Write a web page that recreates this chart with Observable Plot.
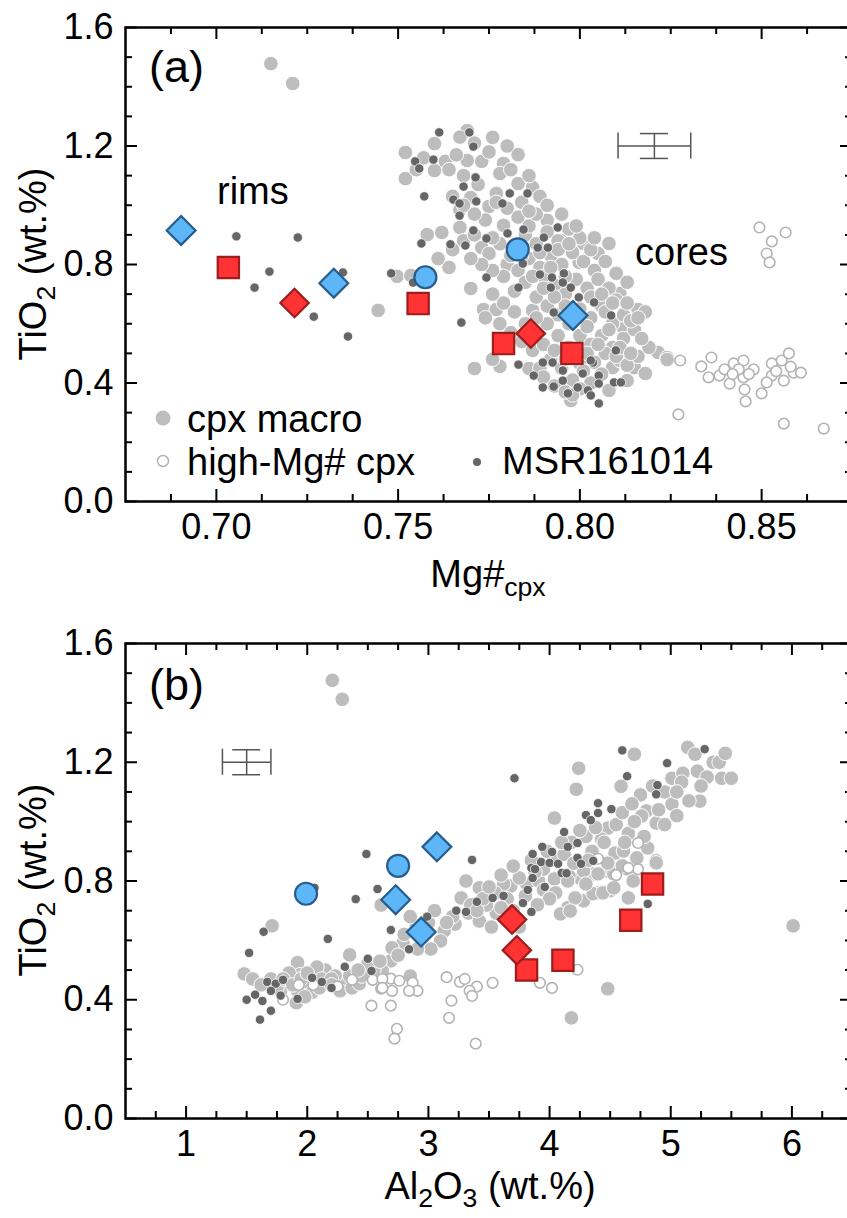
<!DOCTYPE html>
<html><head><meta charset="utf-8">
<script src="https://cdn.jsdelivr.net/npm/d3@7"></script>
<script src="https://cdn.jsdelivr.net/npm/@observablehq/plot@0.6"></script>
<style>
body{margin:0;background:#fff;}
#chart svg{display:block;overflow:hidden}
</style></head><body><div id="chart"></div>
<script>
const FONT = "'Liberation Sans', Arial, Helvetica, sans-serif";

// ---- ticks ----
const yMajor = [0, 0.4, 0.8, 1.2, 1.6];
const yMinor = [0.1, 0.2, 0.3, 0.5, 0.6, 0.7, 0.9, 1.0, 1.1, 1.3, 1.4, 1.5];
const xMajorA = [0.70, 0.75, 0.80, 0.85];
const xMinorA = [0.6875, 0.7125, 0.725, 0.7375, 0.7625, 0.775, 0.7875, 0.8125, 0.825, 0.8375, 0.8625];
const xMajorB = [1, 2, 3, 4, 5, 6];
const xMinorB = [0.75, 1.25, 1.5, 1.75, 2.25, 2.5, 2.75, 3.25, 3.5, 3.75, 4.25, 4.5, 4.75, 5.25, 5.5, 5.75, 6.25];

// ---- panel (a): [Mg#cpx, TiO2] ----
const macroA = [
 [0.715,1.478],[0.721,1.411],[0.7445,0.645],[0.7497,0.760],
 [0.769,1.252],[0.776,1.229],[0.752,1.178],[0.760,1.208],[0.763,1.148],[0.769,1.151],[0.773,1.148],[0.783,1.171],
 [0.779,1.141],[0.752,1.090],[0.760,1.117],[0.778,1.107],[0.783,1.073],[0.787,1.060],[0.777,1.040],[0.770,1.026],
 [0.775,0.996],[0.767,0.985],[0.758,0.901],[0.762,0.908],[0.767,0.925],[0.773,0.857],[0.775,0.837],[0.779,0.932],
 [0.791,0.949],[0.795,0.881],[0.801,0.871],[0.808,0.871],[0.805,0.837],[0.7535,0.763],[0.770,0.719],[0.7735,0.648],
 [0.777,0.648],[0.787,0.645],[0.811,0.695],[0.816,0.648],[0.812,0.587],[0.7998,0.807],[0.811,0.702],
 [0.771,0.449],[0.778,0.456],[0.776,0.480],[0.7975,0.341],[0.786,0.449],[0.800,0.466],[0.809,0.452],[0.811,0.476],
 [0.813,0.408],[0.808,0.375],[0.815,0.452],[0.818,0.432],[0.8215,0.503],[0.824,0.486],[0.824,0.479],
 [0.780,0.80],[0.783,0.78],[0.786,0.82],[0.789,0.79],[0.792,0.83],[0.795,0.80],[0.798,0.84],[0.801,0.81],[0.804,0.78],
 [0.790,0.76],[0.793,0.73],[0.796,0.70],[0.799,0.75],[0.802,0.72],[0.805,0.75],[0.808,0.72],[0.785,0.74],[0.782,0.71],
 [0.788,0.69],[0.791,0.66],[0.794,0.63],[0.797,0.60],[0.800,0.65],[0.803,0.62],[0.806,0.66],[0.809,0.60],[0.812,0.63],
 [0.800,0.56],[0.803,0.53],[0.806,0.56],[0.809,0.52],[0.812,0.55],[0.815,0.58],[0.797,0.52],[0.794,0.56],[0.791,0.60],
 [0.788,0.62],[0.785,0.60],[0.782,0.64],[0.779,0.67],[0.776,0.70],[0.779,0.76],[0.776,0.78],[0.773,0.80],[0.770,0.82],
 [0.782,0.86],[0.785,0.90],[0.788,0.87],[0.791,0.91],[0.794,0.88],[0.797,0.92],[0.800,0.89],[0.786,0.93],[0.783,0.96],
 [0.780,0.99],[0.777,1.01],[0.774,0.95],[0.771,0.97],[0.768,1.00],[0.765,1.03],[0.772,1.07],[0.768,1.10],[0.764,1.12],
 [0.775,1.18],[0.771,1.21],[0.767,1.23],[0.757,1.16],[0.755,1.12],[0.766,1.17],[0.780,1.20],[0.786,1.10],[0.781,1.12],
 [0.789,1.03],[0.784,1.01],[0.807,0.50],[0.804,0.47],[0.801,0.44],[0.798,0.41],[0.795,0.45],[0.792,0.48],[0.789,0.45],
 [0.810,0.49],[0.813,0.46],[0.816,0.49],[0.819,0.52],[0.817,0.55],[0.814,0.61],[0.818,0.64],[0.810,0.68],[0.807,0.64],
 [0.790,0.42],[0.793,0.39],[0.796,0.37],[0.803,0.40],[0.806,0.43],[0.800,0.38],[0.798,0.36],
 [0.768,0.88],[0.765,0.85],[0.771,0.90],[0.764,0.79],[0.761,0.82],
 [0.774,0.62],[0.778,0.60],[0.781,0.57],[0.784,0.54],[0.787,0.51],[0.790,0.53],[0.793,0.51],[0.796,0.48],[0.799,0.49],
 [0.802,0.50],[0.805,0.53],[0.808,0.58],[0.811,0.52],[0.814,0.50],[0.802,0.59],[0.799,0.62],[0.796,0.66],[0.793,0.69],
 [0.790,0.72],[0.787,0.76],[0.784,0.83],[0.781,0.83],[0.778,0.87],[0.776,0.89],[0.789,0.84],[0.792,0.79],[0.796,0.76],
 [0.803,0.69],[0.806,0.70],[0.809,0.67],[0.813,0.67],[0.816,0.62],[0.794,0.85],[0.797,0.87],[0.803,0.85],[0.807,0.81],
 [0.810,0.77],[0.813,0.74],[0.804,0.89],[0.799,0.93],[0.788,0.97],[0.791,1.00],[0.795,0.97],[0.786,0.98]
];
const highA = [
 [0.8494,0.925],[0.8566,0.908],[0.8528,0.878],[0.8514,0.837],[0.8522,0.807],[0.8276,0.476],[0.8271,0.294],[0.8334,0.456],
 [0.8362,0.486],[0.8354,0.419],[0.8384,0.425],[0.8398,0.446],[0.8423,0.466],[0.8450,0.476],[0.8412,0.398],[0.8450,0.419],
 [0.8453,0.378],[0.8456,0.338],[0.8478,0.446],[0.8500,0.365],[0.8528,0.466],[0.8528,0.425],[0.8514,0.402],[0.8555,0.476],
 [0.8575,0.500],[0.8588,0.435],[0.8608,0.435],[0.8561,0.408],[0.8561,0.263],[0.8671,0.246],[0.8437,0.446],[0.8465,0.430],
 [0.8540,0.440],[0.8580,0.455],[0.8420,0.430]
];
const darkA = [
 [0.7055,0.895],[0.7224,0.891],[0.7146,0.776],[0.7105,0.722],[0.7348,0.773],[0.7268,0.624],[0.7362,0.557],[0.7481,0.770],
 [0.7613,1.246],[0.7696,1.246],[0.7707,1.198],[0.7547,1.148],[0.7597,1.154],[0.7558,1.124],[0.7713,1.094],[0.7680,1.063],
 [0.7807,1.040],[0.7856,1.040],[0.7572,1.030],[0.7652,1.019],[0.7669,1.006],[0.7715,1.013],[0.7787,1.006],[0.7669,0.965],
 [0.7564,0.871],[0.7644,0.868],[0.7685,0.864],[0.7707,0.915],[0.7743,0.888],[0.7801,0.905],[0.7845,0.918],[0.7939,0.925],
 [0.7901,0.891],[0.7884,0.857],[0.7912,0.857],[0.7541,0.739],[0.7743,0.756],[0.7843,0.803],[0.7890,0.766],[0.7923,0.756],
 [0.7956,0.770],[0.7953,0.739],[0.7920,0.722],[0.7975,0.722],[0.7831,0.722],[0.7997,0.689],[0.8039,0.672],[0.8086,0.628],
 [0.7928,0.638],[0.7674,0.604],
 [0.7831,0.462],[0.7873,0.425],[0.7898,0.469],[0.7925,0.469],[0.7953,0.442],[0.7898,0.385],[0.7928,0.388],[0.7953,0.408],
 [0.7994,0.385],[0.8022,0.375],[0.8008,0.432],[0.8036,0.469],[0.8052,0.425],[0.8052,0.398],[0.8094,0.402],[0.8030,0.358],
 [0.8052,0.331],[0.8099,0.510],[0.7967,0.365],[0.8030,0.476],[0.8113,0.402]
];

// ---- panel (b): [Al2O3, TiO2] ----
const macroB = [
 [2.207,1.476],[2.289,1.412],[2.61,0.719],[1.71,0.649],[2.35,0.551],[1.92,0.525],[1.48,0.487],[2.69,0.531],[1.94,0.484],
 [1.99,0.454],[2.05,0.49],[2.15,0.50],[2.30,0.454],[2.27,0.43],[2.37,0.44],[2.43,0.454],[1.92,0.43],[2.04,0.425],[1.91,0.390],
 [1.78,0.43],[1.85,0.49],[2.08,0.51],[2.23,0.48],
 [4.70,1.227],[4.24,1.180],[4.22,1.109],[4.59,1.119],[5.01,1.146],[5.01,1.059],[4.04,1.012],[4.80,1.036],[4.76,1.019],
 [4.88,0.995],[4.48,0.978],[4.43,0.941],[4.54,0.894],[4.61,0.901],[4.72,0.878],[4.88,0.868],[4.58,0.844],[4.47,0.834],
 [4.36,0.824],[4.25,0.810],[3.31,0.800],[3.42,0.777],[5.14,1.250],[5.20,1.227],[5.10,1.163],[5.09,1.133],[5.22,1.170],
 [5.42,1.146],[5.50,1.146],[5.24,1.069],[4.81,0.911],
 [3.58,0.773],[3.68,0.783],[3.81,0.790],[3.91,0.800],[4.04,0.807],[4.16,0.817],[4.28,0.834],[4.40,0.824],[4.53,0.824],
 [4.64,0.841],[4.69,0.800],[4.50,0.767],[4.40,0.760],[4.28,0.733],[4.15,0.710],[4.09,0.689],[4.21,0.743],[3.27,0.743],
 [3.33,0.692],[3.42,0.665],[3.22,0.655],[3.13,0.632],[3.10,0.598],[3.02,0.571],[2.91,0.571],[2.79,0.591],[2.70,0.575],
 [2.62,0.497],[2.85,0.48],[3.52,0.645],[3.56,0.692],[3.75,0.645],[3.48,0.719],
 [4.48,0.437],[4.18,0.339],[6.01,0.649],
 [4.17,0.699],[4.36,0.757],[4.44,0.760],[4.53,0.777],[4.65,0.743],[4.88,0.861],[4.60,0.851],
 [3.95,0.84],[4.05,0.87],[4.12,0.89],[4.18,0.93],[4.30,0.95],[4.35,0.90],[4.20,0.86],[3.88,0.83],[3.75,0.81],[3.62,0.79],
 [3.55,0.76],[3.45,0.74],[3.65,0.74],[3.80,0.75],[3.95,0.77],[4.05,0.76],[4.65,0.96],[4.55,0.99],[4.70,1.00],[4.95,1.10],
 [5.05,1.10],[5.30,1.15],[5.35,1.20],[5.15,1.07],[4.90,1.04],[2.80,0.62],[2.90,0.65],[3.00,0.66],[3.05,0.70],[2.85,0.68],
 [2.55,0.50],[2.45,0.48],[2.50,0.52],[1.55,0.47],[1.62,0.45],[1.70,0.47],[1.75,0.44],[1.80,0.47],[1.88,0.45],[1.95,0.47],
 [2.00,0.49],[2.12,0.47],[2.20,0.47],[2.35,0.48],[2.42,0.50],[1.98,0.41],[2.10,0.44],[2.20,0.45],
 [3.20,0.68],[3.35,0.72],[3.50,0.78],[3.60,0.82],[3.70,0.85],[3.85,0.87],[3.98,0.90],[4.10,0.93],[4.25,0.97],[4.38,0.98],
 [4.60,1.03],[4.45,0.93],[4.32,0.87],[4.15,0.80],[4.00,0.74],[3.90,0.72],[3.70,0.70],[3.40,0.70],[3.15,0.66],[2.95,0.61],
 [2.75,0.55],[2.60,0.53],[3.60,0.71],[4.30,0.79],[4.48,0.86],[4.62,0.93],[4.78,0.95],[4.95,0.99],[5.05,1.02],[5.25,1.12],
 [5.40,1.20],[5.45,1.23],[4.85,1.12],[4.75,1.09],[4.68,1.06]
];
const highB = [
 [2.37,0.467],[2.54,0.467],[2.61,0.437],[2.69,0.471],[2.70,0.430],[2.69,0.380],[2.53,0.380],[2.74,0.302],[2.72,0.269],
 [3.15,0.476],[3.26,0.460],[3.30,0.470],[3.40,0.444],[3.34,0.430],[3.36,0.413],[3.53,0.457],[3.19,0.397],[3.17,0.339],
 [3.39,0.252],[3.92,0.457],[4.02,0.440],[4.23,0.501],[2.76,0.464],[2.87,0.457],[2.91,0.430],[2.84,0.430],[2.62,0.470],
 [2.62,0.440],[2.25,0.445],[2.05,0.45],[1.93,0.45],[1.80,0.40],[4.73,0.928],[4.73,0.84],[4.65,0.844],[4.40,0.875],[4.55,0.82]
];
const darkB = [
 [2.488,0.891],[2.06,0.777],[2.40,0.739],[2.58,0.773],[1.64,0.629],[2.17,0.605],[2.69,0.635],[1.52,0.558],[2.31,0.511],
 [2.50,0.538],[2.53,0.497],[1.67,0.460],[1.74,0.454],[1.80,0.467],[2.04,0.474],[2.12,0.460],[2.20,0.440],[1.70,0.430],
 [1.78,0.414],[1.92,0.403],[1.57,0.417],[1.50,0.400],[1.63,0.396],[1.70,0.363],[1.61,0.333],
 [3.71,1.146],[4.60,1.240],[4.64,1.153],[4.97,1.197],[4.89,1.123],[4.88,1.092],[4.40,1.062],[4.30,1.022],[4.40,1.029],
 [4.34,1.005],[4.51,1.042],[4.12,0.965],[4.23,0.928],[4.15,0.915],[3.94,0.915],[4.02,0.898],[3.86,0.891],[3.93,0.864],
 [4.00,0.861],[4.07,0.858],[4.23,0.878],[4.26,0.858],[4.36,0.868],[3.85,0.844],[4.10,0.827],[3.86,0.810],[3.36,0.871],
 [5.28,1.244],[4.81,0.723],
 [3.88,0.840],[4.14,0.826],[3.96,0.780],[3.82,0.770],[3.62,0.750],[3.53,0.743],[3.40,0.730],[3.23,0.700],[3.31,0.696],
 [3.85,0.696],[3.78,0.726],[2.99,0.680],[2.84,0.570]
];

// ---- rim analyses (shared by both panels) ----
const blueDiamonds = [{mg:0.6903, al:3.07, ti:0.915}, {mg:0.7323, al:2.73, ti:0.737}, {mg:0.7981, al:2.94, ti:0.628}];
const blueCircles  = [{mg:0.7575, al:1.99, ti:0.757}, {mg:0.7829, al:2.75, ti:0.851}];
const redSquares   = [{mg:0.7033, al:4.85, ti:0.790}, {mg:0.7555, al:4.67, ti:0.668}, {mg:0.7790, al:4.11, ti:0.533}, {mg:0.7978, al:3.81, ti:0.500}];
const redDiamonds  = [{mg:0.7215, al:3.69, ti:0.670}, {mg:0.7865, al:3.73, ti:0.567}];

// ---- error bars ----
const errA = [{x:0.8205, y:1.2, ex:0.010, ey:0.042}];
const errB = [{x:1.50,   y:1.2, ex:0.20,  ey:0.042}];

const C = {macro:"#bdbdbd", dark:"#666666", open:"#b3b3b3", blue:"#5cb6f7", blueS:"#275d8c", red:"#ff3333", redS:"#9e1c1c", err:"#555555"};

function panel(cfg) {
  const W = 847, ML = 125, MR = -5;
  const plotW = W - ML - MR, plotH = cfg.height - cfg.marginTop - cfg.marginBottom;
  const tk = {stroke:"#000", strokeWidth:2};
  const xk = cfg.xKey;
  const bigDot = (data, symbol, r, fill, stroke) =>
    Plot.dot(data, {x: xk, y: "ti", symbol, r, fill, stroke, strokeWidth: 2.2});
  const eb = {stroke: C.err, strokeWidth: 1.5};
  const marks = [
    Plot.ruleX(cfg.xMinor, {x: d => d, insetTop: plotH - 7, ...tk}),
    Plot.ruleX(cfg.xMinor, {x: d => d, insetBottom: plotH - 7, ...tk}),
    Plot.ruleX(cfg.xMajor, {x: d => d, insetTop: plotH - 12, ...tk}),
    Plot.ruleX(cfg.xMajor, {x: d => d, insetBottom: plotH - 12, ...tk}),
    Plot.ruleY(yMinor, {y: d => d, insetRight: plotW - 7, ...tk}),
    Plot.ruleY(yMinor, {y: d => d, insetLeft: plotW - 7, ...tk}),
    Plot.ruleY(yMajor, {y: d => d, insetRight: plotW - 12, ...tk}),
    Plot.ruleY(yMajor, {y: d => d, insetLeft: plotW - 12, ...tk}),
    Plot.axisX({ticks: cfg.xMajor, tickFormat: cfg.fmt, tickSize: 0, tickPadding: 12, label: null}),
    Plot.axisY({ticks: yMajor, tickFormat: d3.format(".1f"), tickSize: 0, tickPadding: 12, label: null}),
    // error bar
    Plot.ruleY(cfg.err, {y: "y", x1: d => d.x - d.ex, x2: d => d.x + d.ex, ...eb}),
    Plot.ruleX(cfg.err, {x: d => d.x - d.ex, y1: "y", y2: "y", insetTop: -13, insetBottom: -13, ...eb}),
    Plot.ruleX(cfg.err, {x: d => d.x + d.ex, y1: "y", y2: "y", insetTop: -13, insetBottom: -13, ...eb}),
    Plot.ruleX(cfg.err, {x: "x", y1: d => d.y - d.ey, y2: d => d.y + d.ey, ...eb}),
    Plot.ruleY(cfg.err, {y: d => d.y - d.ey, x1: "x", x2: "x", insetLeft: -14, insetRight: -14, ...eb}),
    Plot.ruleY(cfg.err, {y: d => d.y + d.ey, x1: "x", x2: "x", insetLeft: -14, insetRight: -14, ...eb}),
    // data clouds
    Plot.dot(cfg.macro, {x: d => d[0], y: d => d[1], r: 7.3, fill: C.macro, stroke: "#fff", strokeWidth: 1}),
    Plot.dot(cfg.high, {x: d => d[0], y: d => d[1], r: 5.3, fill: "#fff", stroke: C.open, strokeWidth: 1.6}),
    Plot.dot(cfg.dark, {x: d => d[0], y: d => d[1], r: 4.7, fill: C.dark, stroke: "#fff", strokeWidth: 0.8}),
    // rims
    bigDot(redSquares, "square", 12, C.red, C.redS),
    bigDot(redDiamonds, "diamond2", 12.8, C.red, C.redS),
    bigDot(blueDiamonds, "diamond2", 13, C.blue, C.blueS),
    bigDot(blueCircles, "circle", 11, C.blue, C.blueS),
    Plot.frame({stroke: "#000", strokeWidth: 2.5})
  ];
  return Plot.plot({
    width: W, height: cfg.height,
    marginLeft: ML, marginRight: MR, marginTop: cfg.marginTop, marginBottom: cfg.marginBottom,
    x: {domain: cfg.xDomain}, y: {domain: [0, 1.6]},
    style: {fontFamily: FONT, fontSize: "36px", color: "#000", background: "#fff", overflow: "hidden"},
    marks
  });
}

function addText(svg, x, y, parts, size, opts = {}) {
  const t = d3.select(svg).append("text")
    .attr("font-family", FONT).attr("font-size", size).attr("fill", "#000")
    .attr("text-anchor", opts.anchor || "start");
  if (opts.rotate) t.attr("transform", `translate(${x},${y}) rotate(-90)`);
  else t.attr("x", x).attr("y", y);
  const sh = opts.sub || 9;
  let shift = 0;
  for (const p of parts) {
    const s = t.append("tspan").text(p.t);
    if (p.sub) { s.attr("font-size", size * 0.7).attr("dy", sh - shift); shift = sh; }
    else { if (shift) s.attr("dy", -shift); shift = 0; }
  }
  return t;
}

const svgA = panel({height: 609, marginTop: 27, marginBottom: 108, xDomain: [0.675, 0.875],
  xMajor: xMajorA, xMinor: xMinorA, fmt: d3.format(".2f"), xKey: "mg",
  macro: macroA, high: highA, dark: darkA, err: errA});
const svgB = panel({height: 609, marginTop: 34, marginBottom: 100, xDomain: [0.5, 6.5],
  xMajor: xMajorB, xMinor: xMinorB, fmt: d3.format("d"), xKey: "al",
  macro: macroB, high: highB, dark: darkB, err: errB});

// panel (a) texts
addText(svgA, 149, 82, [{t:"(a)"}], 45);
addText(svgA, 217, 204, [{t:"rims"}], 38);
addText(svgA, 635, 265, [{t:"cores"}], 38);
addText(svgA, 488, 587, [{t:"Mg#"}, {t:"cpx", sub:true}], 38, {anchor:"middle"});
addText(svgA, 46, 264, [{t:"TiO"}, {t:"2", sub:true}, {t:" (wt.%)"}], 38, {anchor:"middle", rotate:true});
// legend
const lg = d3.select(svgA);
lg.append("circle").attr("cx", 163).attr("cy", 418).attr("r", 7.5).attr("fill", C.macro);
lg.append("circle").attr("cx", 163).attr("cy", 461).attr("r", 5.5).attr("fill", "#fff").attr("stroke", C.open).attr("stroke-width", 1.5);
lg.append("circle").attr("cx", 477).attr("cy", 462).attr("r", 4).attr("fill", C.dark);
addText(svgA, 187, 432, [{t:"cpx macro"}], 38);
addText(svgA, 187, 475, [{t:"high-Mg# cpx"}], 38);
addText(svgA, 502, 474, [{t:"MSR161014"}], 38);

// panel (b) texts
addText(svgB, 149, 91, [{t:"(b)"}], 45);
addText(svgB, 490, 590, [{t:"Al"}, {t:"2", sub:true}, {t:"O"}, {t:"3", sub:true}, {t:" (wt.%)"}], 38, {anchor:"middle", sub:8});
addText(svgB, 46, 271, [{t:"TiO"}, {t:"2", sub:true}, {t:" (wt.%)"}], 38, {anchor:"middle", rotate:true});

document.getElementById("chart").append(svgA, svgB);
</script></body></html>
